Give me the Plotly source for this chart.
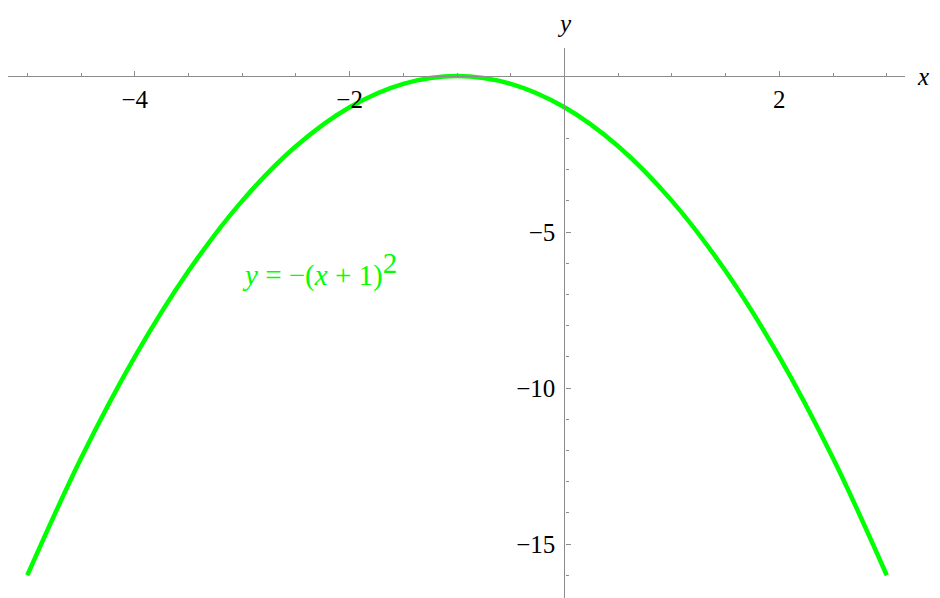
import plotly.graph_objects as go

x_vals = [-5, -4.5, -4, -3.5, -3, -2.5, -2, -1.5, -1, -0.5, 0, 0.5, 1, 1.5, 2, 2.5, 3]
y_vals = [-16, -12.25, -9, -6.25, -4, -2.25, -1, -0.25, 0, -0.25, -1, -2.25, -4, -6.25, -9, -12.25, -16]

x_tick_vals = [-4, -2, 0, 2]
x_tick_text = ["−4", "−2", "", "2"]
y_tick_vals = [-15, -10, -5, 0]
y_tick_text = ["−15", "−10", "−5", ""]

X_RANGE = [-5.18, 3.17]
Y_RANGE = [-16.73, 0.9]

GREEN = "#00ff00"
AXIS = "#8c8c8c"
FONT = "Liberation Serif, Times New Roman, DejaVu Serif, serif"

fig = go.Figure()
fig.add_trace(go.Scatter(x=x_vals, y=y_vals, mode="lines",
                         line=dict(color=GREEN, width=4.5, shape="spline"),
                         hoverinfo="skip"))

# put each axis line through the origin
x_pos = (0 - Y_RANGE[0]) / (Y_RANGE[1] - Y_RANGE[0])
y_pos = (0 - X_RANGE[0]) / (X_RANGE[1] - X_RANGE[0])

# the page body adds 8px on the top/left, so the figure is 8px smaller
fig.update_layout(
    width=932, height=590,
    margin=dict(l=0, r=35, t=40, b=0),
    plot_bgcolor="white", paper_bgcolor="white",
    showlegend=False,
    font=dict(family=FONT, size=25, color="black"),
    xaxis=dict(range=X_RANGE, anchor="free", position=x_pos,
               showgrid=False, zeroline=False,
               showline=True, linecolor=AXIS, linewidth=1.2,
               tickmode="array", tickvals=x_tick_vals, ticktext=x_tick_text,
               ticks="inside", ticklen=5, tickcolor=AXIS, tickwidth=1,
               ticklabelstandoff=1,
               minor=dict(dtick=0.5, tick0=0, ticks="inside", ticklen=3,
                          tickcolor=AXIS, showgrid=False)),
    yaxis=dict(range=Y_RANGE, anchor="free", position=y_pos,
               showgrid=False, zeroline=False,
               showline=True, linecolor=AXIS, linewidth=1.2,
               tickmode="array", tickvals=y_tick_vals, ticktext=y_tick_text,
               ticks="inside", ticklen=5, tickcolor=AXIS, tickwidth=1,
               ticklabelstandoff=4,
               minor=dict(dtick=1, tick0=0, ticks="inside", ticklen=3,
                          tickcolor=AXIS, showgrid=False)),
)

# axis names
fig.add_annotation(x=1, y=x_pos, xref="paper", yref="paper", xanchor="left",
                   xshift=10, yanchor="middle", text="<i>x</i>", showarrow=False,
                   font=dict(family=FONT, size=25))
fig.add_annotation(x=y_pos, y=1, xref="paper", yref="paper", xanchor="center",
                   yanchor="bottom", yshift=10, borderpad=0, text="<i>y</i>",
                   showarrow=False, font=dict(family=FONT, size=25))

# curve label
fig.add_annotation(x=-2.28, y=-6.2,
                   text="<i>y</i> = −(<i>x</i> + 1)<sup><span style='font-size:29px'>2</span></sup>",
                   showarrow=False, font=dict(family=FONT, size=29, color=GREEN))

fig.write_html("out.html")
